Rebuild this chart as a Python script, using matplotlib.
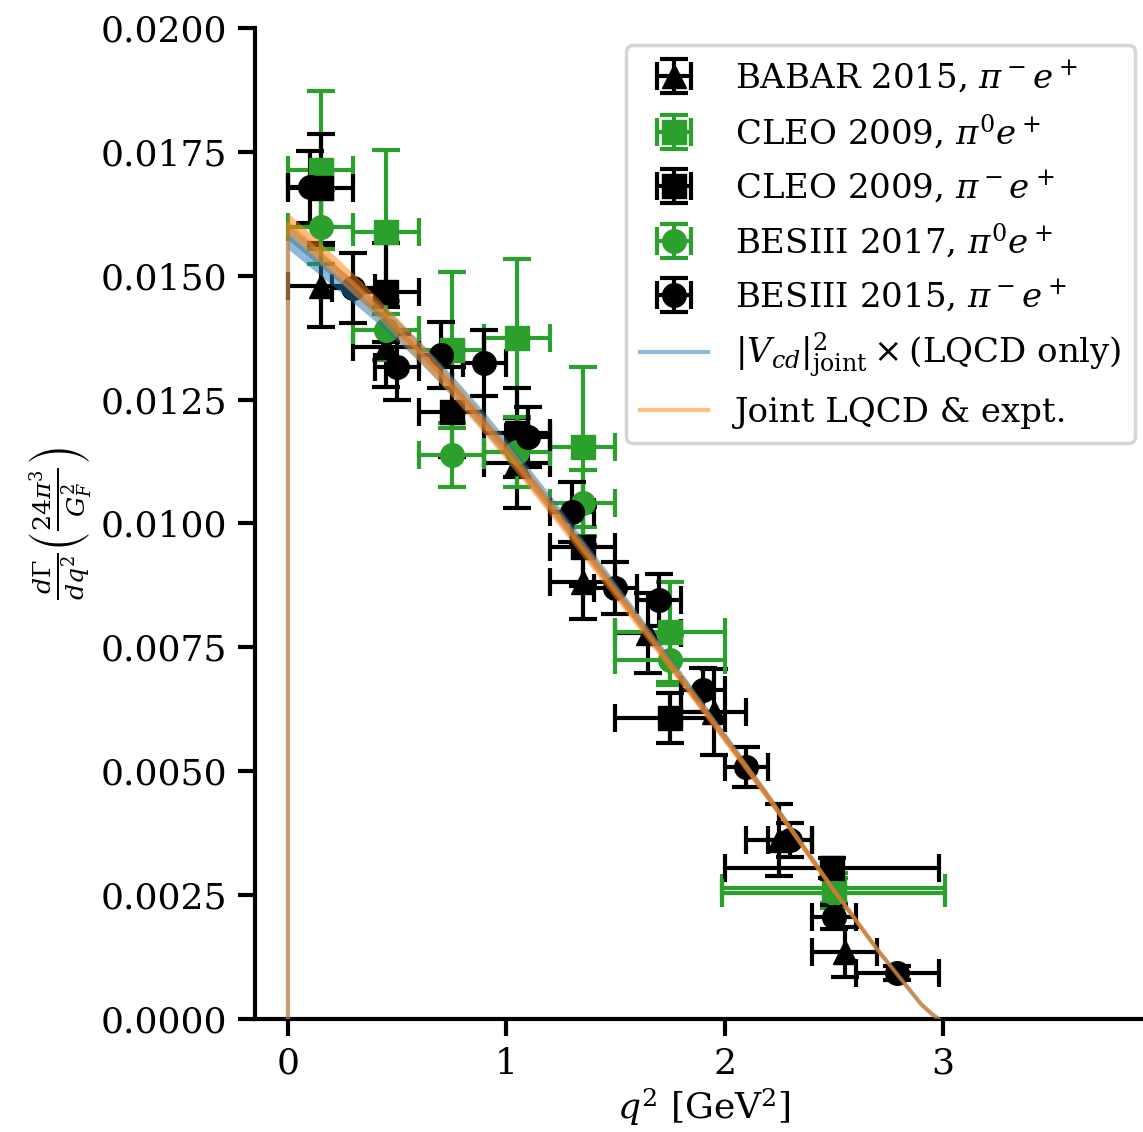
import numpy as np
import matplotlib
matplotlib.use("Agg")
import matplotlib.pyplot as plt
from matplotlib.ticker import FormatStrFormatter, MultipleLocator

plt.rcParams['font.family'] = ['DejaVu Serif']
plt.rcParams['mathtext.fontset'] = 'dejavuserif'

# BABAR 2015, pi- e+
babar_q = [0.15, 0.45, 1.05, 1.35, 1.65, 1.95, 2.25, 2.55]
babar_y = [0.0148, 0.01356, 0.01122, 0.00882, 0.00779, 0.0062, 0.00361, 0.00135]
babar_dy = [0.00083, 0.0008, 0.0009, 0.00075, 0.0008, 0.00087, 0.00073, 0.0005]
babar_dq = [0.15] * 8

# CLEO 2009, pi0 e+
cleo0_q = [0.15, 0.45, 0.75, 1.05, 1.35, 1.75, 2.5]
cleo0_y = [0.01713, 0.01588, 0.0135, 0.01374, 0.01154, 0.00781, 0.00264]
cleo0_dy = [0.0016, 0.00166, 0.00158, 0.0016, 0.00162, 0.001, 0.0003]
cleo0_dq = [0.15, 0.15, 0.15, 0.15, 0.15, 0.25, 0.51]

# CLEO 2009, pi- e+
cleom_q = [0.15, 0.45, 0.75, 1.05, 1.35, 1.75, 2.49]
cleom_y = [0.01677, 0.01467, 0.01225, 0.01183, 0.00953, 0.00607, 0.00305]
cleom_dy = [0.0011, 0.001, 0.0009, 0.0009, 0.0008, 0.0005, 0.0002]
cleom_dq = [0.15, 0.15, 0.15, 0.15, 0.15, 0.25, 0.49]

# BESIII 2017, pi0 e+
bes0_q = [0.15, 0.45, 0.75, 1.05, 1.35, 1.75, 2.5]
bes0_y = [0.01598, 0.0139, 0.01138, 0.01144, 0.01041, 0.00725, 0.00255]
bes0_dy = [0.00075, 0.0006, 0.00064, 0.0007, 0.00066, 0.0005, 0.0003]
bes0_dq = [0.15, 0.15, 0.15, 0.15, 0.15, 0.25, 0.51]

# BESIII 2015, pi- e+
besm_q = [0.1, 0.3, 0.5, 0.7, 0.9, 1.1, 1.3, 1.5, 1.7, 1.9, 2.1, 2.3, 2.5, 2.79]
besm_y = [0.01679, 0.01475, 0.01316, 0.0134, 0.01324, 0.01175, 0.01023, 0.0087,
          0.00846, 0.00664, 0.00509, 0.00361, 0.00206, 0.00093]
besm_dy = [0.00073, 0.0007, 0.00067, 0.00067, 0.00067, 0.0006, 0.0006, 0.00053,
           0.00052, 0.00045, 0.0004, 0.00035, 0.00025, 0.00015]
besm_dq = [0.1] * 13 + [0.19]

# theory curves
curve_q = [0.0, 0.1, 0.2, 0.3, 0.4, 0.5, 0.6, 0.7, 0.8, 0.9, 1.0, 1.1, 1.2, 1.3,
           1.4, 1.5, 1.6, 1.7, 1.8, 1.9, 2.0, 2.1, 2.2, 2.3, 2.4, 2.5, 2.6, 2.7,
           2.8, 2.9, 2.95, 2.98]
joint_mid = [0.01605, 0.01565, 0.01525, 0.01483, 0.0144, 0.01395, 0.01348, 0.013,
             0.0125, 0.01198, 0.01145, 0.0109, 0.01034, 0.00977, 0.0092, 0.00862,
             0.00804, 0.00745, 0.00686, 0.00627, 0.00567, 0.00507, 0.00447, 0.00385,
             0.00322, 0.0026, 0.002, 0.0014, 0.00085, 0.0003, 0.0001, 0.0]
joint_err = [0.00022, 0.00022, 0.00021, 0.00021, 0.0002, 0.0002, 0.0002, 0.00019,
             0.00019, 0.00018, 0.00018, 0.00017, 0.00017, 0.00016, 0.00016, 0.00015,
             0.00014, 0.00013, 0.00012, 0.00012, 0.00011, 0.0001, 0.00009, 0.00008,
             0.00008, 0.00007, 0.00006, 0.00005, 0.00003, 0.00002, 0.00001, 0.0]
lqcd_mid = [0.01578, 0.01542, 0.01505, 0.01468, 0.0143, 0.0139, 0.01348, 0.01303,
            0.01255, 0.01205, 0.01152, 0.01097, 0.01041, 0.00984, 0.00926, 0.00868,
            0.00809, 0.0075, 0.0069, 0.0063, 0.0057, 0.00509, 0.00448, 0.00386,
            0.00323, 0.00261, 0.002, 0.0014, 0.00085, 0.0003, 0.0001, 0.0]
lqcd_err = [0.00024, 0.00024, 0.00023, 0.00023, 0.00022, 0.00022, 0.00021, 0.00021,
            0.0002, 0.0002, 0.00019, 0.00018, 0.00017, 0.00016, 0.00015, 0.00014,
            0.00013, 0.00012, 0.00012, 0.00011, 0.0001, 0.00009, 0.00009, 0.00008,
            0.00007, 0.00006, 0.00005, 0.00004, 0.00003, 0.00002, 0.00001, 0.0]

fig = plt.figure(figsize=(11.43, 11.32), dpi=100)
ax = fig.add_axes([0.2231, 0.0998, 0.7848, 0.8755])

eb = dict(ls='none', ms=17, elinewidth=3, capsize=10, capthick=3)
ax.errorbar(babar_q, babar_y, yerr=babar_dy, xerr=babar_dq, fmt='^', color='k',
            label=r'BABAR 2015, $\pi^-e^+$', **eb)
ax.errorbar(cleo0_q, cleo0_y, yerr=cleo0_dy, xerr=cleo0_dq, fmt='s', color='tab:green',
            label=r'CLEO 2009, $\pi^0e^+$', **eb)
ax.errorbar(cleom_q, cleom_y, yerr=cleom_dy, xerr=cleom_dq, fmt='s', color='k',
            label=r'CLEO 2009, $\pi^-e^+$', **eb)
ax.errorbar(bes0_q, bes0_y, yerr=bes0_dy, xerr=bes0_dq, fmt='o', color='tab:green',
            label=r'BESIII 2017, $\pi^0e^+$', **eb)
ax.errorbar(besm_q, besm_y, yerr=besm_dy, xerr=besm_dq, fmt='o', color='k',
            label=r'BESIII 2015, $\pi^-e^+$', **eb)

q = np.array(curve_q)
for mid, err, c, lab in [(lqcd_mid, lqcd_err, 'tab:blue', r'$|V_{cd}|^2_{\rm joint}\times$(LQCD only)'),
                         (joint_mid, joint_err, 'tab:orange', 'Joint LQCD & expt.')]:
    mid = np.array(mid)
    err = np.array(err)
    ax.fill_between(q, mid - err, mid + err, color=c, alpha=0.5, lw=0, zorder=3)
    ax.plot(np.r_[0, q], np.r_[0, mid], color=c, alpha=0.5, lw=3, label=lab, zorder=3)

ax.set_xlim(-0.151, 3.958)
ax.set_ylim(0, 0.02)
ax.yaxis.set_major_locator(MultipleLocator(0.0025))
ax.yaxis.set_major_formatter(FormatStrFormatter('%.4f'))
ax.set_xticks([0, 1, 2, 3])
for s in ['top', 'right']:
    ax.spines[s].set_visible(False)
for s in ['left', 'bottom']:
    ax.spines[s].set_linewidth(3)
ax.tick_params(length=12, width=3, pad=8, labelsize=26)
ax.set_xlabel(r'$q^2$ [GeV$^2$]', fontsize=26)
ax.set_ylabel(r'$\frac{d\Gamma}{dq^2}\left(\frac{24\pi^3}{G_F^2}\right)$', fontsize=26)

handles, labels = ax.get_legend_handles_labels()
order = [labels.index(l) for l in labels if 'LQCD' not in l] + \
        [labels.index(l) for l in labels if 'LQCD' in l]
leg = ax.legend([handles[i] for i in order], [labels[i] for i in order],
                loc='upper right', fontsize=24.5, labelspacing=0.5)
leg.get_frame().set_linewidth(2.5)

fig.savefig('out.png', dpi=100)
